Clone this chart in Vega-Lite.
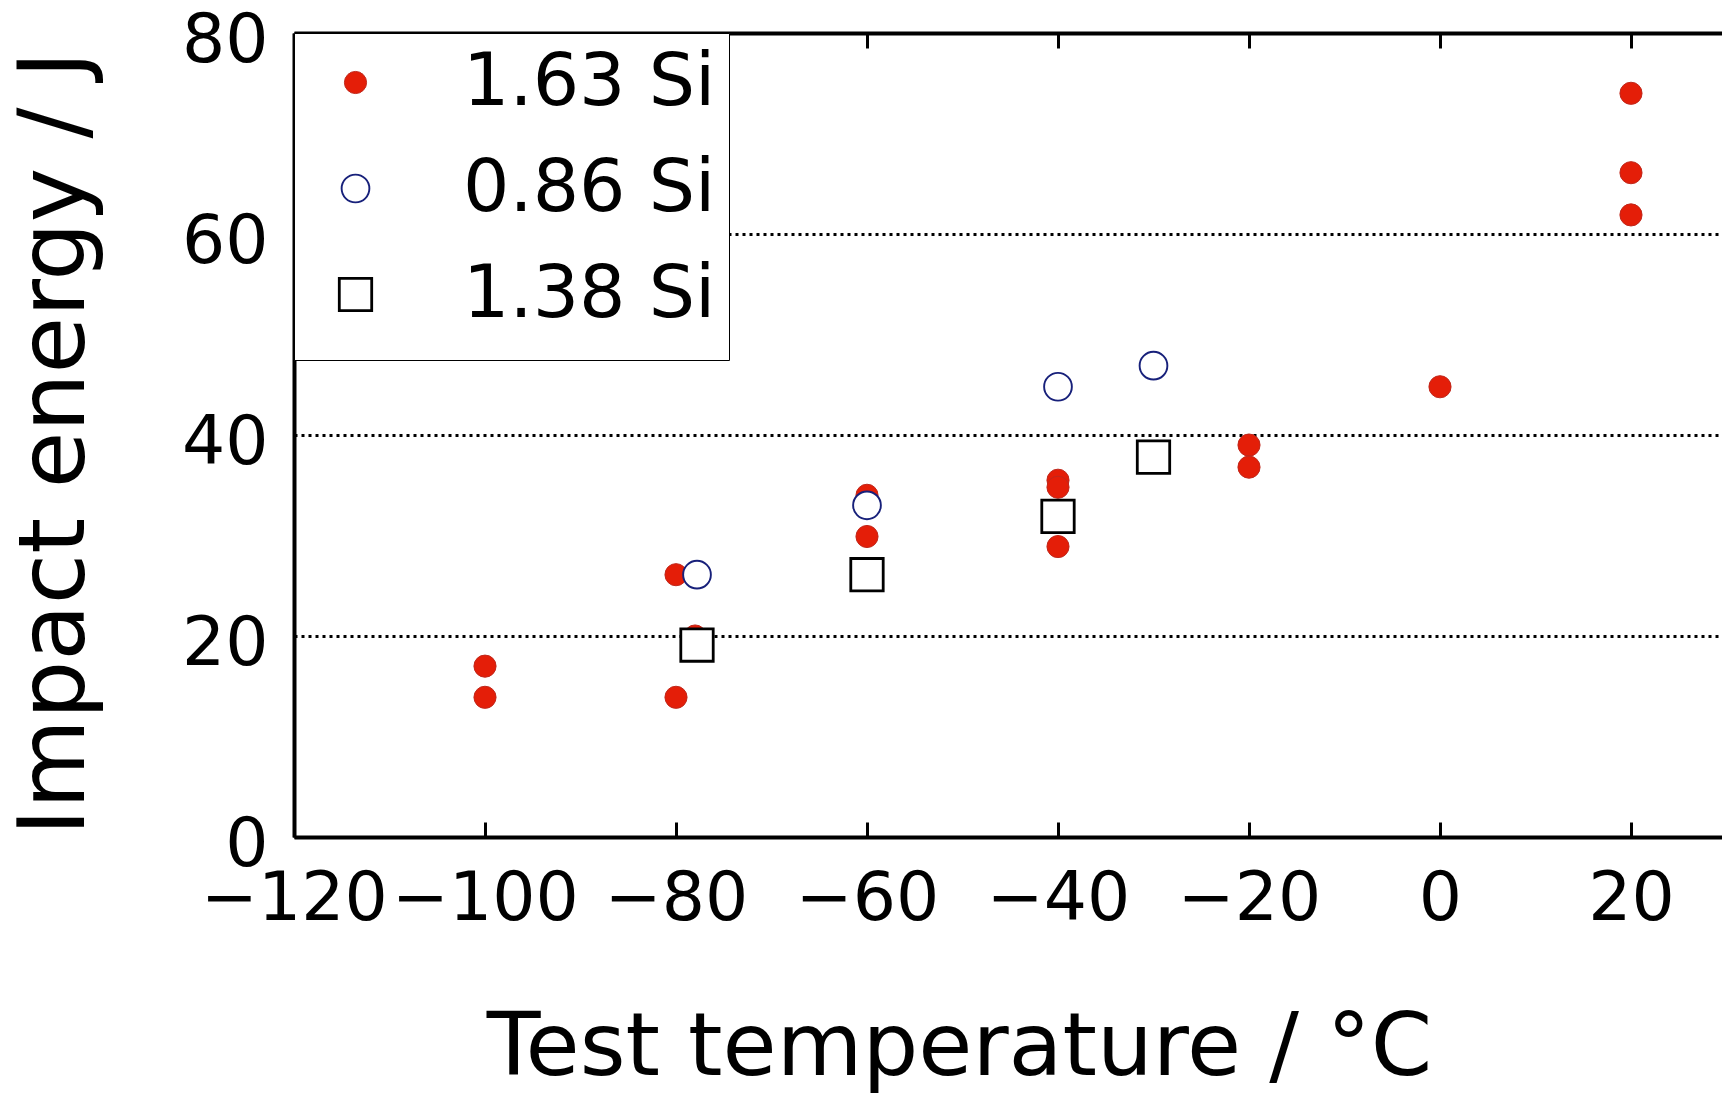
{
  "$schema": "https://vega.github.io/schema/vega-lite/v6.json",
  "autosize": {"type": "none"},
  "padding": {"left": 294, "top": 33, "right": 0, "bottom": 257},
  "width": 1428,
  "height": 804,
  "background": "white",
  "config": {
    "view": {"stroke": null},
    "font": "DejaVu Sans",
    "legend": {
      "orient": "none",
      "legendX": 0,
      "legendY": 0,
      "padding": 13,
      "rowPadding": 32,
      "symbolOffset": 12,
      "labelOffset": 71,
      "labelFont": "DejaVu Sans",
      "labelFontSize": 73,
      "labelColor": "black",
      "labelLimit": 0,
      "strokeColor": "black",
      "fillColor": "white",
      "titleOrient": "bottom",
      "titleFontSize": 10,
      "titlePadding": 5
    }
  },
  "data": {
    "values": [
      {"series": "1.63 Si", "temp": -100, "energy": 17},
      {"series": "1.63 Si", "temp": -100, "energy": 13.9},
      {"series": "1.63 Si", "temp": -80, "energy": 26.1},
      {"series": "1.63 Si", "temp": -80, "energy": 13.9},
      {"series": "1.63 Si", "temp": -78, "energy": 20},
      {"series": "1.63 Si", "temp": -60, "energy": 34},
      {"series": "1.63 Si", "temp": -60, "energy": 29.9},
      {"series": "1.63 Si", "temp": -40, "energy": 35.5},
      {"series": "1.63 Si", "temp": -40, "energy": 34.8},
      {"series": "1.63 Si", "temp": -40, "energy": 28.9},
      {"series": "1.63 Si", "temp": -20, "energy": 39},
      {"series": "1.63 Si", "temp": -20, "energy": 36.8},
      {"series": "1.63 Si", "temp": 0, "energy": 44.8},
      {"series": "1.63 Si", "temp": 20, "energy": 74},
      {"series": "1.63 Si", "temp": 20, "energy": 66.1},
      {"series": "1.63 Si", "temp": 20, "energy": 61.9},
      {"series": "0.86 Si", "temp": -77.8, "energy": 26.1},
      {"series": "0.86 Si", "temp": -60, "energy": 33},
      {"series": "0.86 Si", "temp": -40, "energy": 44.8},
      {"series": "0.86 Si", "temp": -30, "energy": 46.9},
      {"series": "1.38 Si", "temp": -77.8, "energy": 19.1},
      {"series": "1.38 Si", "temp": -60, "energy": 26.1},
      {"series": "1.38 Si", "temp": -40, "energy": 31.9},
      {"series": "1.38 Si", "temp": -30, "energy": 37.8}
    ]
  },
  "resolve": {"axis": {"x": "independent"}},
  "layer": [
    {
      "mark": {"type": "point", "opacity": 1},
      "encoding": {
        "x": {
          "field": "temp",
          "type": "quantitative",
          "scale": {"domain": [-120, 29.53], "nice": false, "zero": false},
          "axis": {
            "orient": "bottom",
            "values": [-120, -100, -80, -60, -40, -20, 0, 20],
            "labelFont": "DejaVu Sans",
            "labelFontSize": 68,
            "labelColor": "black",
            "labelFlush": false,
            "labelOverlap": false,
            "labelLimit": 0,
            "labelPadding": 43,
            "tickSize": -15,
            "tickWidth": 3,
            "tickColor": "black",
            "domainColor": "black",
            "domainWidth": 4,
            "grid": false,
            "title": "Test temperature / °C",
            "titleFont": "DejaVu Sans",
            "titleFontSize": 88,
            "titleFontWeight": "normal",
            "titleColor": "black",
            "titleX": 665,
            "titleY": 237,
            "titleBaseline": "alphabetic",
            "titleAlign": "center",
            "titleAngle": 0
          }
        },
        "y": {
          "field": "energy",
          "type": "quantitative",
          "scale": {"domain": [0, 80], "nice": false},
          "axis": {
            "values": [0, 20, 40, 60, 80],
            "ticks": false,
            "labelFont": "DejaVu Sans",
            "labelFontSize": 68,
            "labelColor": "black",
            "labelPadding": 26,
            "labelOffset": 8,
            "domainColor": "black",
            "domainWidth": 4,
            "grid": true,
            "gridColor": "black",
            "gridDash": [3, 4],
            "gridWidth": 3,
            "gridOpacity": 1,
            "title": "Impact energy / J",
            "titleFont": "DejaVu Sans",
            "titleFontSize": 92,
            "titleFontWeight": "normal",
            "titleColor": "black",
            "titleAngle": -90,
            "titleX": -211,
            "titleY": 410,
            "titleBaseline": "alphabetic",
            "titleAlign": "center"
          }
        },
        "shape": {
          "field": "series",
          "type": "nominal",
          "scale": {"domain": ["1.63 Si", "0.86 Si", "1.38 Si"], "range": ["circle", "circle", "square"]},
          "legend": {"title": " "}
        },
        "fill": {
          "field": "series",
          "type": "nominal",
          "scale": {"domain": ["1.63 Si", "0.86 Si", "1.38 Si"], "range": ["#e41e08", "#ffffff", "#ffffff"]},
          "legend": {"title": " "}
        },
        "stroke": {
          "field": "series",
          "type": "nominal",
          "scale": {"domain": ["1.63 Si", "0.86 Si", "1.38 Si"], "range": ["#c0281c", "#17207a", "#000000"]},
          "legend": {"title": " "}
        },
        "size": {
          "field": "series",
          "type": "nominal",
          "scale": {"domain": ["1.63 Si", "0.86 Si", "1.38 Si"], "range": [490, 1050, 1250]},
          "legend": {"title": " "}
        },
        "strokeWidth": {
          "field": "series",
          "type": "nominal",
          "scale": {"domain": ["1.63 Si", "0.86 Si", "1.38 Si"], "range": [1, 2.8, 3.5]},
          "legend": {"title": " "}
        }
      }
    },
    {
      "mark": {"type": "point", "opacity": 0},
      "encoding": {
        "x": {
          "field": "temp",
          "type": "quantitative",
          "axis": {
            "orient": "top",
            "values": [-120, -100, -80, -60, -40, -20, 0, 20],
            "labels": false,
            "tickSize": -15,
            "tickWidth": 3,
            "tickColor": "black",
            "domainColor": "black",
            "domainWidth": 4,
            "grid": false,
            "title": null
          }
        },
        "y": {"field": "energy", "type": "quantitative"}
      }
    }
  ]
}
